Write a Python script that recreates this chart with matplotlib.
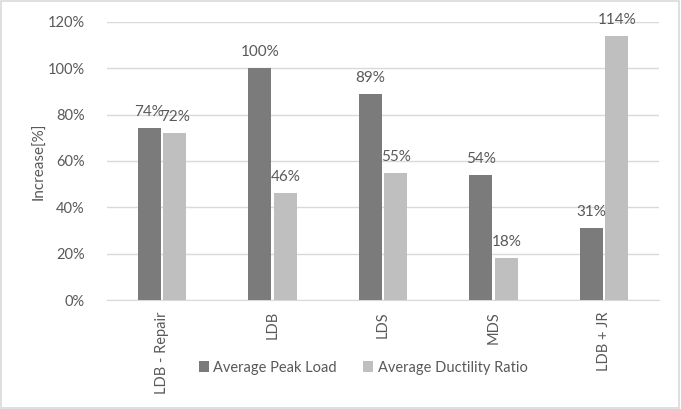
import matplotlib.pyplot as plt
import numpy as np
from matplotlib.patches import Rectangle
from matplotlib.ticker import FuncFormatter

plt.rcParams['font.family'] = ['Lato', 'DejaVu Sans']

# specimen groups and their increases (%)
groups = ['LDB - Repair', 'LDB', 'LDS', 'MDS', 'LDB + JR']
peak_load = [74, 100, 89, 54, 31]
ductility = [72, 46, 55, 18, 114]
series_names = ['Average Peak Load', 'Average Ductility Ratio']

text_col = '#595959'
grid_col = '#d9d9d9'
dark = '#7b7b7b'
light = '#bfbfbf'

fig = plt.figure(figsize=(6.81, 4.09), dpi=100)
ax = fig.add_axes([0.157, 0.2665, 0.811, 0.68])

x = np.arange(len(groups))
w = 0.21
b1 = ax.bar(x - w / 2 - 0.01, peak_load, w, color=dark, label=series_names[0], zorder=3)
b2 = ax.bar(x + w / 2 + 0.01, ductility, w, color=light, label=series_names[1], zorder=3)

# value labels above each bar
for bars, vals in ((b1, peak_load), (b2, ductility)):
    for r, v in zip(bars, vals):
        ax.annotate(f'{v}%', (r.get_x() + r.get_width() / 2, v), xytext=(0, 6.5),
                    textcoords='offset points', ha='center', va='bottom',
                    fontsize=11, color=text_col, zorder=4)

ax.set_xlim(-0.5, len(groups) - 0.5)
ax.set_ylim(0, 120)
ax.set_yticks(range(0, 121, 20))
ax.yaxis.set_major_formatter(FuncFormatter(lambda v, p: f'{int(v)}%'))
ax.set_xticks(x)
ax.set_xticklabels(groups, rotation=90, va='top')
ax.tick_params(axis='both', length=0, colors=text_col, labelsize=10.5)
ax.tick_params(axis='x', pad=8)
ax.tick_params(axis='y', pad=16)
ax.grid(axis='y', color=grid_col, lw=1, zorder=0)
for s in ['top', 'right', 'left']:
    ax.spines[s].set_visible(False)
ax.spines['bottom'].set_color(grid_col)
ax.set_ylabel('Increase[%]', color=text_col, fontsize=11)
ax.yaxis.set_label_coords(-0.109, 0.5)

fig.legend(handles=[b1, b2], loc='center', bbox_to_anchor=(0.533, 0.101), ncol=2,
           frameon=False, fontsize=10.5, labelcolor=text_col, handlelength=0.7,
           handleheight=0.7, handletextpad=0.3, columnspacing=1.8)

fig.patches.append(Rectangle((0.002, 0.003), 0.995, 0.994, transform=fig.transFigure,
                             fill=False, edgecolor=grid_col, lw=1.2))

fig.savefig('out.png', dpi=100)
